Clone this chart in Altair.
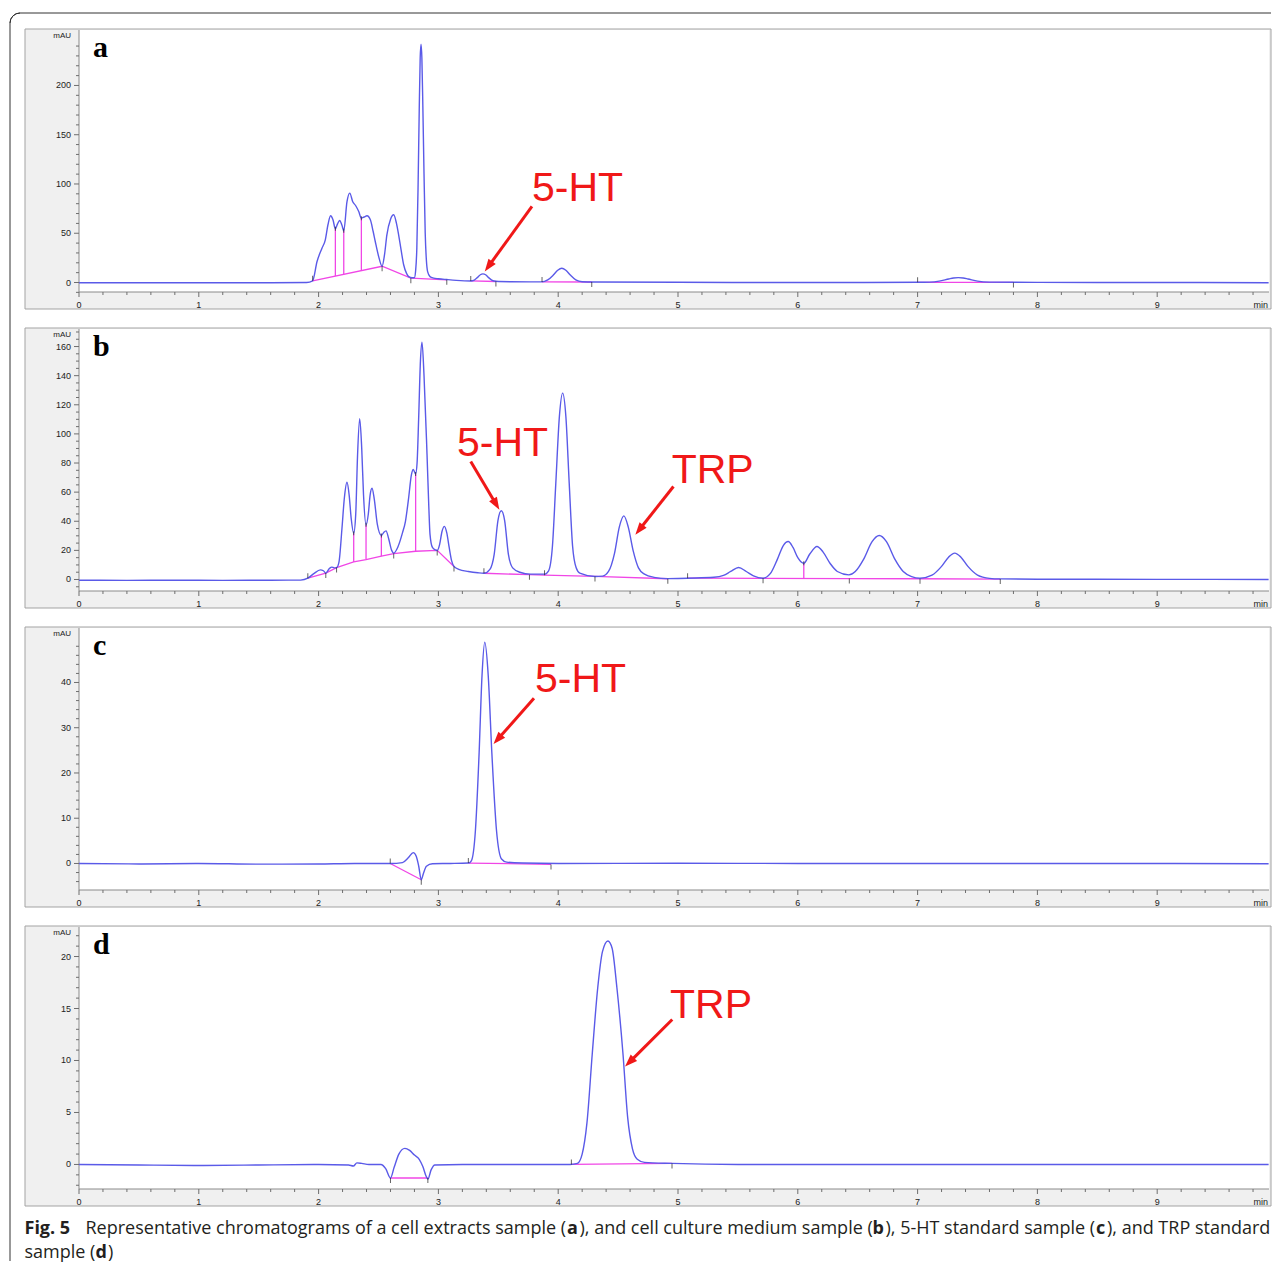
import math
import altair as alt
import pandas as pd

# ---------------- layout constants ----------------
W, H = 1190, 262
PX_PER_MIN = 119.8
XMAX = W / PX_PER_MIN
TRACE = "#5a5ae8"
PINK = "#f046e6"
RED = "#f01818"
AXC = "#6e6e6e"
FONT = "Liberation Sans"

X_MAJOR = [0, 1, 2, 3, 4, 5, 6, 7, 8, 9]
X_MINOR = [round(i * 0.2, 1) for i in range(50) if i % 5 != 0]

# ---------------- panel a : cell extracts ----------------
a_trace = [(0.0, -0.3), (0.4, -0.2), (0.8, -0.3), (1.2, -0.2), (1.6, -0.3), (1.9, 0.0),
           (1.95, 1.7), (1.987, 21.3), (2.028, 34.8), (2.056, 43.3), (2.078, 58.6), (2.10, 67.7),
           (2.12, 63.6), (2.14, 54.5), (2.158, 59.5), (2.176, 63.0), (2.195, 58.0), (2.21, 52.5),
           (2.237, 82.0), (2.26, 90.7), (2.285, 82.0), (2.31, 77.9), (2.335, 72.0), (2.357, 65.3),
           (2.38, 66.5), (2.404, 67.7), (2.432, 63.6), (2.455, 52.0), (2.473, 41.6), (2.50, 27.0),
           (2.53, 16.5), (2.55, 28.0), (2.57, 48.4), (2.60, 64.0), (2.627, 68.7), (2.65, 60.0),
           (2.668, 48.4), (2.69, 32.0), (2.71, 18.0), (2.735, 9.0), (2.752, 6.0), (2.78, 4.8),
           (2.80, 5.0), (2.81, 12.0), (2.82, 35.0), (2.83, 95.0), (2.84, 175.0), (2.848, 228.0),
           (2.855, 242.0), (2.862, 228.0), (2.87, 180.0), (2.88, 110.0), (2.89, 50.0), (2.90, 22.0),
           (2.91, 11.0), (2.93, 6.0), (2.96, 4.5), (3.0, 3.8), (3.07, 3.0), (3.15, 2.2), (3.27, 1.6),
           (3.30, 2.5), (3.327, 5.2), (3.35, 7.9), (3.372, 8.8), (3.394, 7.9), (3.417, 5.2),
           (3.445, 2.5), (3.48, 1.2), (3.6, 0.8), (3.86, 0.6), (3.913, 2.6), (3.959, 7.5),
           (3.996, 12.4), (4.03, 14.5), (4.064, 12.4), (4.101, 7.5), (4.147, 2.6), (4.20, 0.8),
           (4.3, 0.5), (5.0, 0.2), (6.0, 0.0), (7.0, 0.2), (7.1, 0.4), (7.18, 1.4), (7.26, 3.6),
           (7.30, 4.6), (7.34, 5.0), (7.38, 4.6), (7.42, 3.6), (7.50, 1.4), (7.6, 0.4), (8.0, 0.1),
           (9.0, 0.0), (9.93, -0.2)]
a_base = [[(1.95, 1.7), (2.53, 16.5), (2.77, 4.4), (3.07, 2.7)],
          [(3.27, 1.6), (3.48, 1.0)],
          [(3.865, 0.6), (4.28, 0.5)],
          [(7.0, 0.2), (7.80, 0.1)]]
a_drop = [(2.14, 6.55, 54.5), (2.21, 8.33, 52.5), (2.357, 12.09, 65.3)]
a_up = [(1.95, 1.7), (3.27, 1.6), (3.865, 0.6), (7.0, 0.2)]
a_down = [(2.53, 16.5), (2.77, 4.4), (3.07, 2.7), (3.48, 1.0), (4.28, 0.5), (7.80, 0.1)]
a_mid = [(2.14, 54.5), (2.21, 52.5), (2.357, 65.3)]
a_ydom = (-9.64, 256.3)
a_ymajor = [0, 50, 100, 150, 200]
a_yminor = [-10] + [v for v in range(10, 260, 10) if v % 50 != 0]
a_text = [("5-HT", 3.781, 83.2)]
a_arrow = [(3.781, 77.2, 3.387, 11.2)]

# ---------------- panel b : culture medium ----------------
b_trace = [(0.0, -0.5), (0.4, -0.6), (0.8, -0.5), (1.2, -0.6), (1.6, -0.5), (1.85, -0.4),
           (1.91, 0.9), (1.96, 4.0), (2.015, 6.6), (2.04, 6.0), (2.06, 4.4), (2.09, 7.5), (2.11, 8.5),
           (2.13, 8.0), (2.15, 8.2), (2.17, 12.0), (2.195, 35.0), (2.215, 56.0), (2.237, 66.8),
           (2.255, 58.0), (2.272, 42.0), (2.293, 31.8), (2.31, 45.0), (2.325, 85.0), (2.343, 110.4),
           (2.36, 90.0), (2.375, 58.0), (2.396, 37.6), (2.415, 45.0), (2.43, 58.0), (2.446, 62.7),
           (2.465, 55.0), (2.49, 38.0), (2.524, 30.2), (2.545, 32.5), (2.563, 33.4), (2.585, 28.0),
           (2.61, 20.0), (2.627, 18.1), (2.66, 22.0), (2.70, 32.0), (2.725, 40.0), (2.75, 55.0),
           (2.775, 72.0), (2.79, 75.5), (2.81, 72.5), (2.822, 80.0), (2.835, 110.0), (2.85, 150.0),
           (2.863, 163.0), (2.88, 140.0), (2.905, 86.0), (2.92, 50.0), (2.93, 31.0), (2.95, 22.0),
           (2.975, 20.3), (2.99, 20.0), (3.01, 24.0), (3.03, 33.0), (3.05, 36.5), (3.07, 32.0),
           (3.09, 22.0), (3.11, 13.0), (3.13, 9.0), (3.17, 7.0), (3.25, 5.5), (3.33, 4.6),
           (3.38, 4.3), (3.43, 7.0), (3.466, 17.5), (3.497, 40.5), (3.525, 47.2), (3.553, 40.5),
           (3.584, 17.5), (3.62, 8.0), (3.68, 5.0), (3.77, 3.7), (3.886, 3.7), (3.92, 6.0),
           (3.952, 23.0), (3.98, 66.0), (4.01, 112.0), (4.037, 128.0), (4.064, 112.0), (4.092, 66.0),
           (4.12, 23.0), (4.15, 8.0), (4.18, 4.4), (4.307, 2.1), (4.37, 2.3), (4.42, 5.5),
           (4.47, 18.0), (4.51, 36.0), (4.548, 43.7), (4.585, 36.0), (4.625, 20.0), (4.67, 8.0),
           (4.72, 3.7), (4.80, 1.5), (4.915, 0.6), (5.0, 0.7), (5.08, 0.9), (5.3, 1.5), (5.38, 2.8),
           (5.44, 5.5), (5.506, 8.2), (5.57, 5.5), (5.63, 2.5), (5.71, 0.9), (5.77, 4.0),
           (5.83, 14.0), (5.88, 23.5), (5.92, 26.1), (5.96, 22.0), (6.00, 15.0), (6.05, 11.2),
           (6.10, 17.5), (6.16, 22.7), (6.21, 19.0), (6.27, 11.0), (6.33, 5.5), (6.426, 3.2),
           (6.48, 5.5), (6.55, 14.0), (6.62, 26.0), (6.68, 30.2), (6.74, 26.0), (6.81, 14.0),
           (6.88, 5.5), (6.95, 2.0), (7.02, 0.9), (7.12, 3.0), (7.20, 9.0), (7.26, 15.5),
           (7.31, 18.1), (7.36, 15.5), (7.42, 9.0), (7.50, 3.0), (7.60, 0.8), (7.69, 0.4),
           (8.0, 0.2), (9.0, 0.1), (9.93, 0.0)]
b_base = [[(1.91, 0.9), (2.06, 4.4), (2.15, 8.2), (2.293, 12.1), (2.396, 13.7), (2.524, 16.0),
           (2.627, 17.8), (2.81, 19.4), (2.99, 20.0), (3.13, 8.9)],
          [(3.38, 4.3), (3.76, 3.3), (3.886, 3.0), (4.307, 2.1), (4.915, 0.5)],
          [(5.08, 0.9), (5.71, 0.8), (6.43, 0.6), (7.02, 0.5), (7.69, 0.3)]]
b_drop = [(2.293, 12.1, 31.8), (2.396, 13.7, 37.6), (2.524, 16.0, 30.2), (2.81, 19.4, 72.5),
          (6.05, 0.7, 11.2)]
b_up = [(1.91, 0.9), (3.38, 4.3), (3.886, 3.0), (5.08, 0.9)]
b_down = [(2.06, 4.4), (2.15, 8.2), (2.627, 17.8), (2.99, 20.0), (3.13, 8.9), (3.76, 3.3),
          (4.307, 2.1), (4.915, 0.5), (5.71, 0.8), (6.43, 0.6), (7.02, 0.5), (7.69, 0.3)]
b_mid = [(2.293, 31.8), (2.396, 37.6), (2.524, 30.2), (2.81, 72.5), (6.05, 11.2)]
b_ydom = (-7.9, 172.05)
b_ymajor = [0, 20, 40, 60, 80, 100, 120, 140, 160]
b_yminor = [v for v in range(-5, 171, 5) if v % 20 != 0]
b_text = [("5-HT", 3.155, 84.5), ("TRP", 4.947, 66.1)]
b_arrow = [(3.27, 81.0, 3.509, 47.9), (4.962, 63.9, 4.644, 30.7)]

# ---------------- panel c : 5-HT standard ----------------
c_trace = [(0.0, 0.0), (0.5, -0.1), (1.0, 0.0), (1.5, -0.15), (2.0, -0.1), (2.3, 0.0), (2.6, 0.0),
           (2.70, 0.2), (2.75, 1.3), (2.79, 2.4), (2.815, 1.6), (2.835, -0.5), (2.857, -3.6),
           (2.875, -2.2), (2.90, -0.6), (2.95, -0.05), (3.1, 0.0), (3.25, 0.1), (3.275, 0.6),
           (3.309, 7.3), (3.34, 24.5), (3.364, 41.5), (3.387, 48.9), (3.416, 41.5), (3.446, 24.5),
           (3.485, 7.3), (3.527, 1.0), (3.57, 0.3), (3.7, 0.1), (4.0, 0.0), (5.0, 0.05), (6.0, 0.0),
           (7.0, 0.0), (8.0, 0.0), (9.0, 0.0), (9.93, -0.05)]
c_base = [[(2.598, 0.0), (2.857, -3.6)], [(3.25, 0.1), (3.94, -0.2)]]
c_drop = []
c_up = [(2.598, 0.0), (3.25, 0.1)]
c_down = [(2.857, -3.6), (3.94, -0.2)]
c_mid = []
c_ydom = (-5.86, 52.04)
c_ymajor = [0, 10, 20, 30, 40]
c_yminor = [v for v in range(-4, 51, 2) if v % 10 != 0]
c_text = [("5-HT", 3.806, 37.8)]
c_arrow = [(3.798, 36.5, 3.46, 26.4)]

# ---------------- panel d : TRP standard ----------------
d_trace = [(0.0, 0.0), (0.5, -0.05), (1.0, -0.1), (1.5, -0.05), (2.0, 0.0), (2.25, -0.05),
           (2.29, -0.15), (2.32, 0.15), (2.36, 0.1), (2.42, 0.0), (2.52, 0.0), (2.56, -0.4),
           (2.60, -1.3), (2.63, -0.3), (2.67, 1.0), (2.72, 1.55), (2.76, 1.35), (2.80, 0.9),
           (2.84, 0.5), (2.87, -0.2), (2.90, -1.2), (2.912, -1.4), (2.94, -0.5), (2.97, -0.05),
           (3.2, 0.0), (3.6, 0.0), (4.0, 0.0), (4.1, 0.0), (4.16, 0.1), (4.20, 1.0), (4.24, 4.0),
           (4.285, 10.75), (4.33, 17.0), (4.37, 20.5), (4.415, 21.5), (4.45, 20.8), (4.49, 17.0),
           (4.54, 10.75), (4.58, 4.5), (4.62, 1.5), (4.66, 0.5), (4.72, 0.2), (4.95, 0.1),
           (5.5, 0.0), (6.5, 0.0), (7.5, 0.0), (8.5, 0.0), (9.93, 0.0)]
d_base = [[(2.60, -1.3), (2.912, -1.3)], [(4.11, 0.0), (4.95, 0.1)]]
d_drop = []
d_up = [(4.11, 0.0)]
d_down = [(2.60, -1.3), (2.912, -1.3), (4.95, 0.1)]
d_mid = []
d_ydom = (-2.36, 22.84)
d_ymajor = [0, 5, 10, 15, 20]
d_yminor = [v for v in range(-2, 23) if v % 5 != 0]
d_text = [("TRP", 4.933, 14.13)]
d_arrow = [(4.952, 13.94, 4.558, 9.42)]

# caption segments: text, bold, page-x, page-y (baseline)
caption = [("Fig. 5", True, 23, 1232),
           ("Representative chromatograms of a cell extracts sample (", False, 84, 1232),
           ("a", True, 565.5, 1232),
           ("), and cell culture medium sample (", False, 578, 1232),
           ("b", True, 871, 1232),
           ("), 5-HT standard sample (", False, 884, 1232),
           ("c", True, 1094.5, 1232),
           ("), and TRP standard", False, 1105.5, 1232),
           ("sample (", False, 23, 1256),
           ("d", True, 94, 1256),
           (")", False, 106.5, 1256)]

PLOT_LEFT = 77.5
PLOT_TOPS = {"a": 28.5, "b": 327.5, "c": 626.5, "d": 925.5}

ARROW_PATH = "M0,0 L-0.45,1.25 L0.45,1.25 Z"
ONE = pd.DataFrame({"k": [0]})


def build(key, trace, bases, drops, ups, downs, mids, ydom, ymajor, yminor, texts, arrows,
          frame=False, cap=None):
    xs = alt.Scale(domain=[0, XMAX], nice=False, zero=False)
    ys = alt.Scale(domain=list(ydom), nice=False, zero=False)

    def X(f):
        return alt.X(f, type="quantitative", scale=xs, axis=None)

    def Y(f):
        return alt.Y(f, type="quantitative", scale=ys, axis=None)

    layers = []
    # panel box (grey) and white plotting area
    layers.append(alt.Chart(ONE).mark_rect(fill="#f0f0f0", stroke="#a3a3a3", strokeWidth=1).encode(
        x=alt.value(-54), x2=alt.value(W + 2), y=alt.value(-1), y2=alt.value(H + 17)))
    layers.append(alt.Chart(ONE).mark_rect(fill="#ffffff").encode(
        x=alt.value(0), x2=alt.value(W), y=alt.value(0), y2=alt.value(H)))
    # axis lines
    layers.append(alt.Chart(ONE).mark_rule(color="#8a8a8a", strokeWidth=1).encode(
        x=alt.value(0), y=alt.value(0), y2=alt.value(H)))
    layers.append(alt.Chart(ONE).mark_rule(color="#8a8a8a", strokeWidth=1).encode(
        x=alt.value(0), x2=alt.value(W), y=alt.value(H)))
    # y ticks + labels
    layers.append(alt.Chart(pd.DataFrame({"v": yminor})).mark_rule(color=AXC, strokeWidth=1).encode(
        y=Y("v"), x=alt.value(-3), x2=alt.value(0)))
    ymaj = pd.DataFrame({"v": ymajor})
    layers.append(alt.Chart(ymaj).mark_rule(color=AXC, strokeWidth=1).encode(
        y=Y("v"), x=alt.value(-5), x2=alt.value(0)))
    layers.append(alt.Chart(ymaj).mark_text(font=FONT, fontSize=9, align="right", baseline="middle",
                                            color="#222222").encode(
        y=Y("v"), x=alt.value(-8), text=alt.Text("v:Q", format="d")))
    # x ticks + labels
    layers.append(alt.Chart(pd.DataFrame({"t": X_MINOR})).mark_rule(color=AXC, strokeWidth=1).encode(
        x=X("t"), y=alt.value(H), y2=alt.value(H + 3)))
    xmaj = pd.DataFrame({"t": X_MAJOR})
    layers.append(alt.Chart(xmaj).mark_rule(color=AXC, strokeWidth=1).encode(
        x=X("t"), y=alt.value(H), y2=alt.value(H + 5)))
    layers.append(alt.Chart(xmaj).mark_text(font=FONT, fontSize=9, align="center", baseline="middle",
                                            color="#222222").encode(
        x=X("t"), y=alt.value(H + 12.5), text=alt.Text("t:Q", format="d")))
    # integration baselines
    rows = []
    for si, seg in enumerate(bases):
        for pi, (t, v) in enumerate(seg):
            rows.append({"seg": si, "i": pi, "t": t, "v": v})
    layers.append(alt.Chart(pd.DataFrame(rows)).mark_line(color=PINK, strokeWidth=1.3).encode(
        x=X("t"), y=Y("v"), detail="seg:N", order="i:Q"))
    if drops:
        dd = pd.DataFrame(drops, columns=["t", "v0", "v1"])
        layers.append(alt.Chart(dd).mark_rule(color=PINK, strokeWidth=1.3).encode(
            x=X("t"), y=Y("v0"), y2="v1"))
    # chromatogram trace
    tr = pd.DataFrame(trace, columns=["t", "v"])
    layers.append(alt.Chart(tr).mark_line(color=TRACE, strokeWidth=1.4, interpolate="monotone").encode(
        x=X("t"), y=Y("v")))
    # peak start / end marks
    if ups:
        layers.append(alt.Chart(pd.DataFrame(ups, columns=["t", "v"])).mark_tick(
            orient="vertical", size=5, thickness=1, color="#222222", yOffset=-2.5).encode(x=X("t"), y=Y("v")))
    if downs:
        layers.append(alt.Chart(pd.DataFrame(downs, columns=["t", "v"])).mark_tick(
            orient="vertical", size=5, thickness=1, color="#222222", yOffset=2.5).encode(x=X("t"), y=Y("v")))
    if mids:
        layers.append(alt.Chart(pd.DataFrame(mids, columns=["t", "v"])).mark_tick(
            orient="vertical", size=4, thickness=1, color="#222222").encode(x=X("t"), y=Y("v")))
    # annotations
    td = pd.DataFrame(texts, columns=["label", "t", "v"])
    layers.append(alt.Chart(td).mark_text(align="left", baseline="alphabetic", fontSize=41, font=FONT,
                                          color=RED).encode(x=X("t"), y=Y("v"), text="label:N"))
    ppx = W / XMAX
    ppy = H / (ydom[1] - ydom[0])
    arows = []
    for (t1, v1, t2, v2) in arrows:
        dx = (t2 - t1) * ppx
        dy = -(v2 - v1) * ppy
        L = math.hypot(dx, dy)
        ang = math.degrees(math.atan2(dx, -dy)) % 360
        back = 7.0
        arows.append({"t1": t1, "v1": v1, "t2": t2 - back * dx / L / ppx,
                      "v2": v2 + back * dy / L / ppy, "tt": t2, "vt": v2, "ang": ang})
    ad = pd.DataFrame(arows)
    layers.append(alt.Chart(ad).mark_rule(color=RED, strokeWidth=3).encode(
        x=X("t1"), y=Y("v1"), x2="t2", y2="v2"))
    layers.append(alt.Chart(ad).mark_point(shape=ARROW_PATH, filled=True, size=400, color=RED,
                                           opacity=1, strokeWidth=0).encode(
        x=X("tt"), y=Y("vt"), angle=alt.Angle("ang:Q", scale=None)))
    # panel letter, unit label, time label
    layers.append(alt.Chart(ONE).mark_text(text=key, font="Liberation Serif", fontWeight="bold",
                                           fontSize=30, align="left", baseline="alphabetic",
                                           color="#000000").encode(x=alt.value(14), y=alt.value(26.5)))
    layers.append(alt.Chart(ONE).mark_text(text="mAU", font=FONT, fontSize=8, align="right",
                                           baseline="middle", color="#222222").encode(
        x=alt.value(-8), y=alt.value(5.5)))
    layers.append(alt.Chart(ONE).mark_text(text="min", font=FONT, fontSize=9, align="right",
                                           baseline="middle", color="#222222").encode(
        x=alt.value(W - 1), y=alt.value(H + 12.5)))
    if frame:
        layers.append(alt.Chart(ONE).mark_rule(color="#333333", strokeWidth=1).encode(
            x=alt.value(-59), x2=alt.value(W + 2), y=alt.value(-17)))
        layers.append(alt.Chart(ONE).mark_rule(color="#333333", strokeWidth=1).encode(
            x=alt.value(-69), y=alt.value(-7), y2=alt.value(1231)))
        layers.append(alt.Chart(ONE).mark_arc(radius=10, radius2=10, theta=4.7124, theta2=6.2832,
                                              stroke="#333333", strokeWidth=1, fillOpacity=0).encode(
            x=alt.value(-59), y=alt.value(-7)))
    if cap:
        top = PLOT_TOPS[key]
        for (txt, bold, px, py) in cap:
            layers.append(alt.Chart(ONE).mark_text(
                text=txt, font="Open Sans", fontSize=18, fontWeight="bold" if bold else "normal",
                align="left", baseline="alphabetic", color="#231f20").encode(
                x=alt.value(px - PLOT_LEFT), y=alt.value(py - top)))
    return alt.layer(*layers).properties(width=W, height=H)


pa = build("a", a_trace, a_base, a_drop, a_up, a_down, a_mid, a_ydom, a_ymajor, a_yminor,
           a_text, a_arrow, frame=True)
pb = build("b", b_trace, b_base, b_drop, b_up, b_down, b_mid, b_ydom, b_ymajor, b_yminor,
           b_text, b_arrow)
pc = build("c", c_trace, c_base, c_drop, c_up, c_down, c_mid, c_ydom, c_ymajor, c_yminor,
           c_text, c_arrow)
pd_ = build("d", d_trace, d_base, d_drop, d_up, d_down, d_mid, d_ydom, d_ymajor, d_yminor,
            d_text, d_arrow, cap=caption)

chart = alt.vconcat(pa, pb, pc, pd_, spacing=37, bounds="flush").properties(
    padding={"left": 0, "top": 3, "right": 0, "bottom": 0},
    background="#ffffff",
).configure_view(strokeWidth=0)

chart.save("out.html", embed_options={"renderer": "svg", "actions": False})
